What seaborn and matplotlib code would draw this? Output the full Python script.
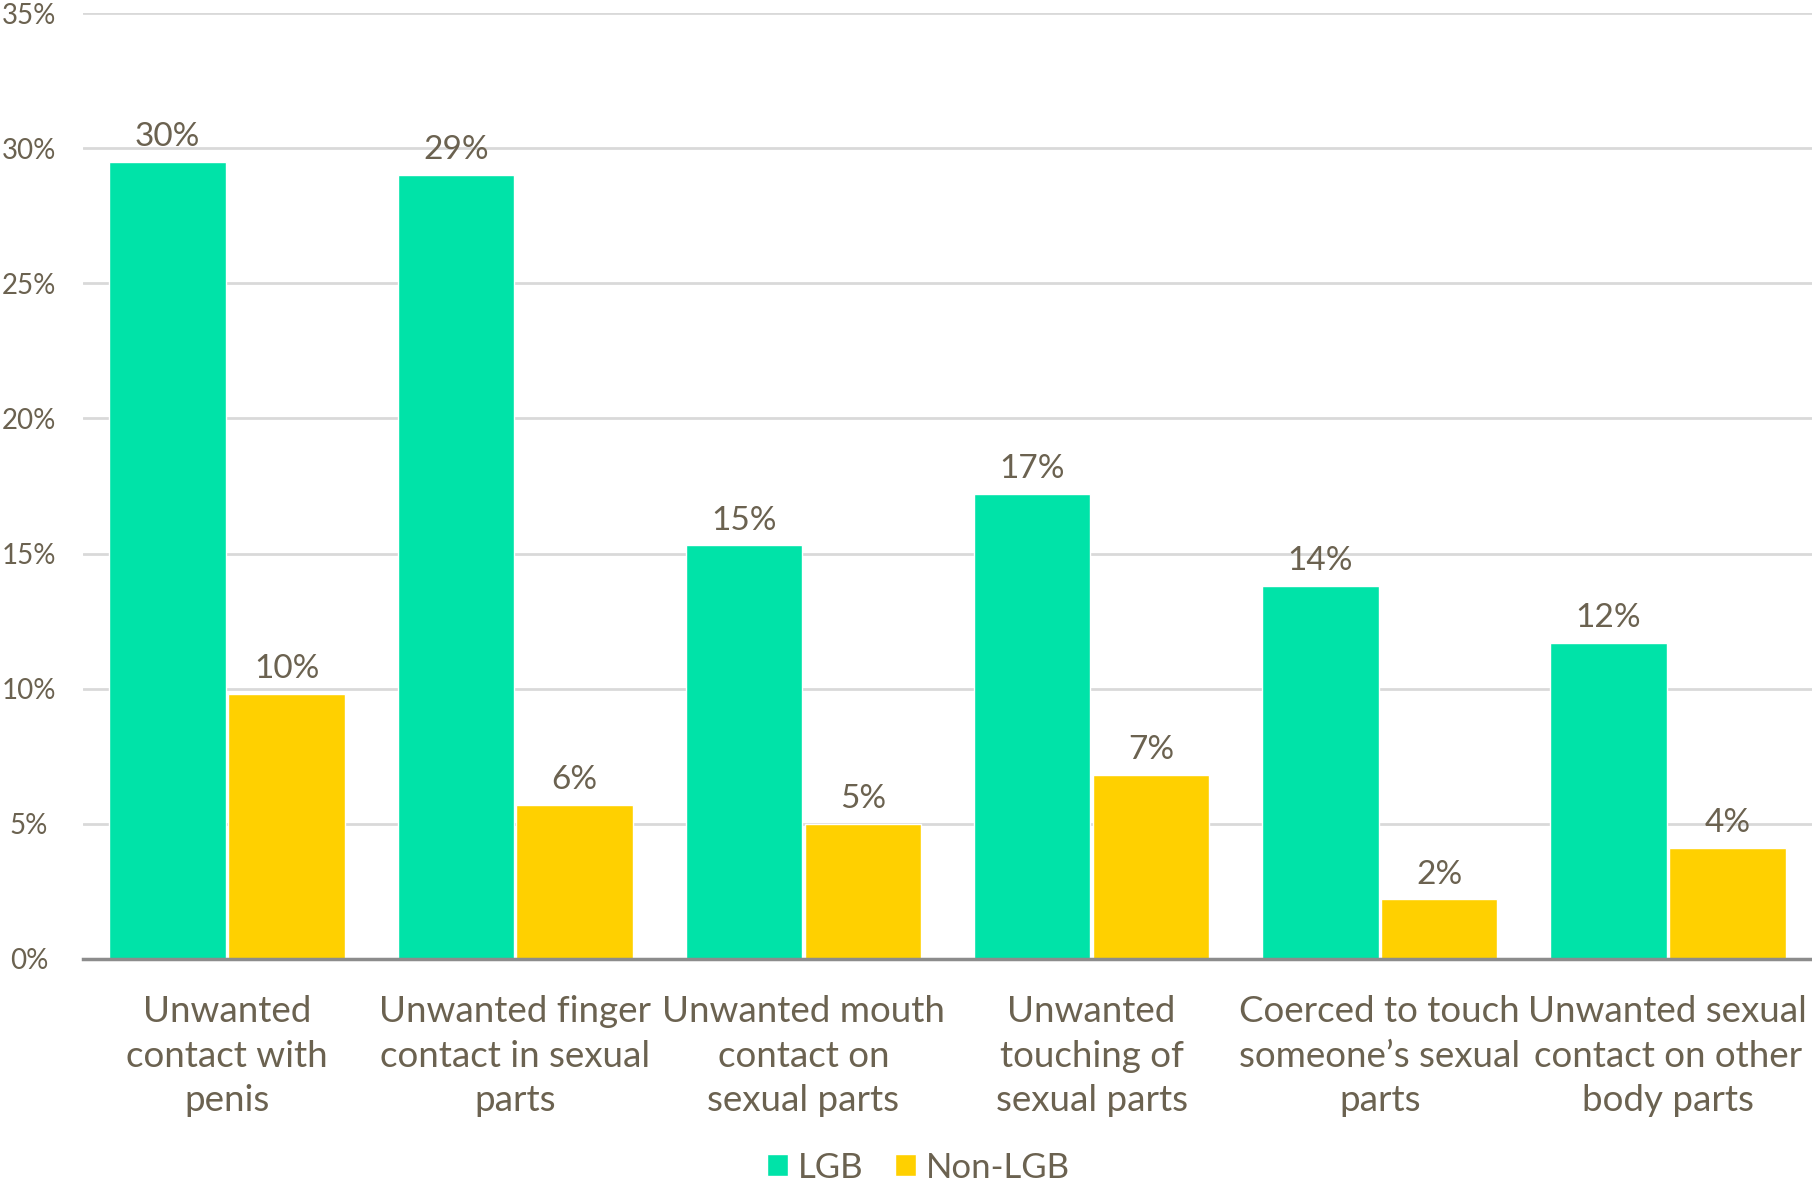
import matplotlib
matplotlib.use("Agg")
import matplotlib.pyplot as plt
import seaborn as sns
import pandas as pd

# Chart data
categories = [
    "Unwanted\ncontact with\npenis",
    "Unwanted finger\ncontact in sexual\nparts",
    "Unwanted mouth\ncontact on\nsexual parts",
    "Unwanted\ntouching of\nsexual parts",
    "Coerced to touch\nsomeone\u2019s sexual\nparts",
    "Unwanted sexual\ncontact on other\nbody parts",
]
lgb = [29.5, 29.0, 15.3, 17.2, 13.8, 11.7]
non_lgb = [9.8, 5.7, 5.0, 6.8, 2.2, 4.1]
groups = ["LGB", "Non-LGB"]
colors = ["#00E3A8", "#FFD000"]
yticks = [0, 5, 10, 15, 20, 25, 30, 35]

text_color = "#6b6250"

df = pd.DataFrame({
    "category": categories * 2,
    "value": lgb + non_lgb,
    "group": [groups[0]] * len(categories) + [groups[1]] * len(categories),
})

sns.set_style("white")
plt.rcParams["font.family"] = ["Lato", "DejaVu Sans"]

fig = plt.figure(figsize=(18.12, 11.83), dpi=100)
ax = fig.add_axes([0.0458, 0.1894, 0.9542, 0.7996])

sns.barplot(data=df, x="category", y="value", hue="group", hue_order=groups,
            palette=colors, width=0.825, gap=0.02, saturation=1, ax=ax,
            order=categories)

ax.set_ylim(0, 35)
ax.set_xlim(-0.5, len(categories) - 0.5)
ax.set_yticks(yticks)
ax.set_yticklabels([f"{t}%" for t in yticks])
ax.yaxis.grid(True, color="#d9d9d9", linewidth=2)
ax.set_axisbelow(True)
for s in ["top", "right", "left"]:
    ax.spines[s].set_visible(False)
ax.spines["bottom"].set_color("#8c8c8c")
ax.spines["bottom"].set_linewidth(2.5)
ax.spines["bottom"].set_zorder(5)

ax.tick_params(axis="y", length=0, pad=39, labelsize=20, labelcolor=text_color)
for lbl in ax.get_yticklabels():
    lbl.set_horizontalalignment("center")
ax.tick_params(axis="x", length=0, pad=26, labelsize=26.5, labelcolor=text_color)
for lbl in ax.get_xticklabels():
    lbl.set_linespacing(1.43)
ax.set_xlabel("")
ax.set_ylabel("")

# value labels above bars
for cont in ax.containers:
    for bar in cont:
        h = bar.get_height()
        ax.annotate(f"{round(h):.0f}%", (bar.get_x() + bar.get_width() / 2, h),
                    xytext=(0, 7), textcoords="offset points",
                    ha="center", va="bottom", fontsize=24, color=text_color)

handles, labels = ax.get_legend_handles_labels()
ax.get_legend().remove()
fig.legend(handles, labels, loc="center", bbox_to_anchor=(0.507, 0.013),
           ncol=2, frameon=False, fontsize=25, labelcolor=text_color,
           handlelength=0.6, handleheight=0.6, handletextpad=0.3,
           columnspacing=0.9, borderpad=0)

fig.savefig("out.png", dpi=100)
